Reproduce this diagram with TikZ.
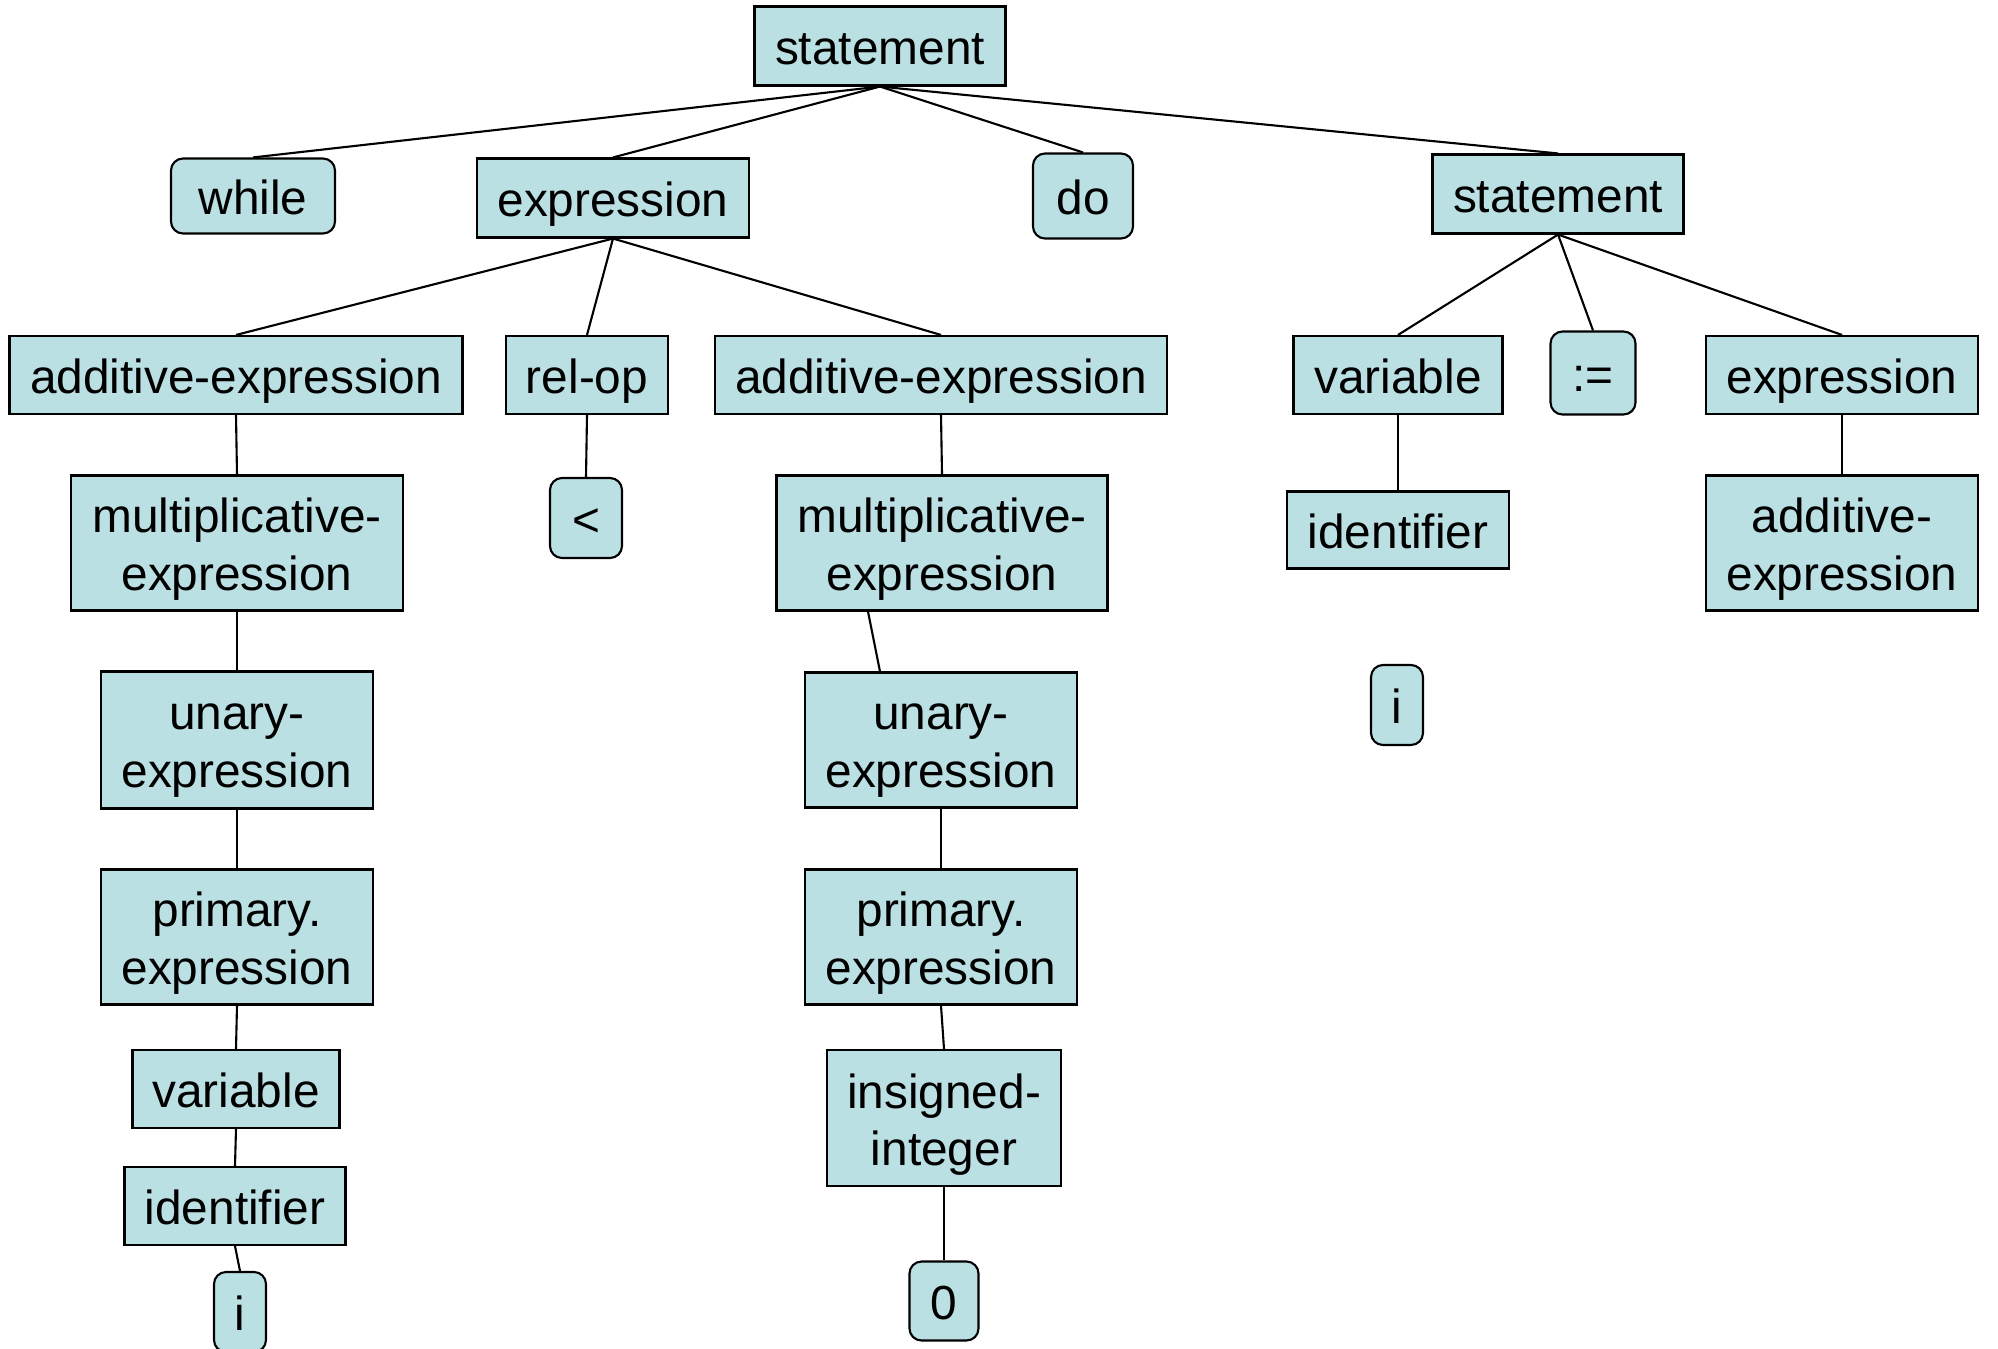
\documentclass[tikz,border=0pt]{standalone}
\usepackage{fontspec}
\setmainfont{Liberation Sans}
\usetikzlibrary{calc}
\definecolor{boxfill}{HTML}{BBE0E3}
\tikzset{
  nt/.style={draw=black, fill=boxfill, line width=0.6pt, inner sep=0pt, align=center,
    text height=13pt, text depth=2.6pt, font=\fontsize{13.6}{16.3}\selectfont},
  nt2/.style={nt, text height=29.5pt},
  tm/.style={nt, rounded corners=0.12cm},
  edge/.style={line width=0.6pt}
}

\begin{document}
\begin{tikzpicture}
	%%%%% START %%%%%
	\useasboundingbox (0,0) rectangle (19.98,-13.48);
	
	% top levels
	\node[nt, minimum width=2.51cm, minimum height=0.79cm] (s0) at (8.80,-0.46) {statement};
	\node[tm, minimum width=1.64cm, minimum height=0.75cm] (wh) at (2.53,-1.96) {while};
	\node[nt, minimum width=2.72cm, minimum height=0.79cm] (e1) at (6.13,-1.98) {expression};
	\node[tm, minimum width=1.00cm, minimum height=0.85cm] (do) at (10.83,-1.96) {do};
	\node[nt, minimum width=2.51cm, minimum height=0.79cm] (s1) at (15.58,-1.94) {statement};
	
	\node[nt, minimum width=4.53cm, minimum height=0.78cm] (a1) at (2.36,-3.75) {additive-expression};
	\node[nt, minimum width=1.62cm, minimum height=0.78cm] (ro) at (5.87,-3.75) {rel-op};
	\node[nt, minimum width=4.52cm, minimum height=0.78cm] (a2) at (9.41,-3.75) {additive-expression};
	\node[nt, minimum width=2.09cm, minimum height=0.78cm] (v1) at (13.98,-3.75) {variable};
	\node[tm, minimum width=0.85cm, minimum height=0.83cm] (as) at (15.93,-3.73) {:=};
	\node[nt, minimum width=2.72cm, minimum height=0.78cm] (e2) at (18.42,-3.75) {expression};
	
	% left branch
	\node[nt2, minimum width=3.32cm, minimum height=1.35cm] (m1) at (2.37,-5.43) {multiplicative-\\expression};
	\node[nt2, minimum width=2.72cm, minimum height=1.37cm] (u1) at (2.37,-7.40) {unary-\\expression};
	\node[nt2, minimum width=2.72cm, minimum height=1.35cm] (p1) at (2.37,-9.37) {primary.\\expression};
	\node[nt, minimum width=2.07cm, minimum height=0.78cm] (v2) at (2.36,-10.89) {variable};
	\node[nt, minimum width=2.21cm, minimum height=0.78cm] (id2) at (2.35,-12.06) {identifier};
	\node[tm, minimum width=0.52cm, minimum height=0.80cm] (i2) at (2.40,-13.12) {i};
	
	\node[tm, minimum width=0.72cm, minimum height=0.80cm] (lt) at (5.86,-5.18) {<};
	
	% middle branch
	\node[nt2, minimum width=3.31cm, minimum height=1.35cm] (m2) at (9.42,-5.43) {multiplicative-\\expression};
	\node[nt2, minimum width=2.72cm, minimum height=1.35cm] (u2) at (9.41,-7.40) {unary-\\expression};
	\node[nt2, minimum width=2.72cm, minimum height=1.35cm] (p2) at (9.41,-9.37) {primary.\\expression};
	\node[nt2, minimum width=2.34cm, minimum height=1.36cm] (ig) at (9.44,-11.18) {insigned-\\integer};
	\node[tm, minimum width=0.69cm, minimum height=0.79cm] (z) at (9.44,-13.01) {0};
	
	% right branch
	\node[nt, minimum width=2.22cm, minimum height=0.77cm] (id1) at (13.98,-5.30) {identifier};
	\node[tm, minimum width=0.52cm, minimum height=0.80cm] (i1) at (13.97,-7.05) {i};
	\node[nt2, minimum width=2.72cm, minimum height=1.35cm] (a3) at (18.42,-5.43) {additive-\\expression};
	
	% connectors
	\foreach \p/\c in {s0/wh, s0/e1, s0/do, s0/s1, e1/a1, e1/ro, e1/a2, s1/v1, s1/as, s1/e2,
	                   a1/m1, m1/u1, u1/p1, p1/v2, v2/id2, id2/i2, ro/lt,
	                   a2/m2, u2/p2, p2/ig, ig/z, v1/id1, e2/a3}
		\draw[edge] (\p.south) -- (\c.north);
	\draw[edge] ([xshift=-0.74cm]m2.south) -- ([xshift=-0.61cm]u2.north);
	
	%%%%% END %%%%%
\end{tikzpicture}
\end{document}
